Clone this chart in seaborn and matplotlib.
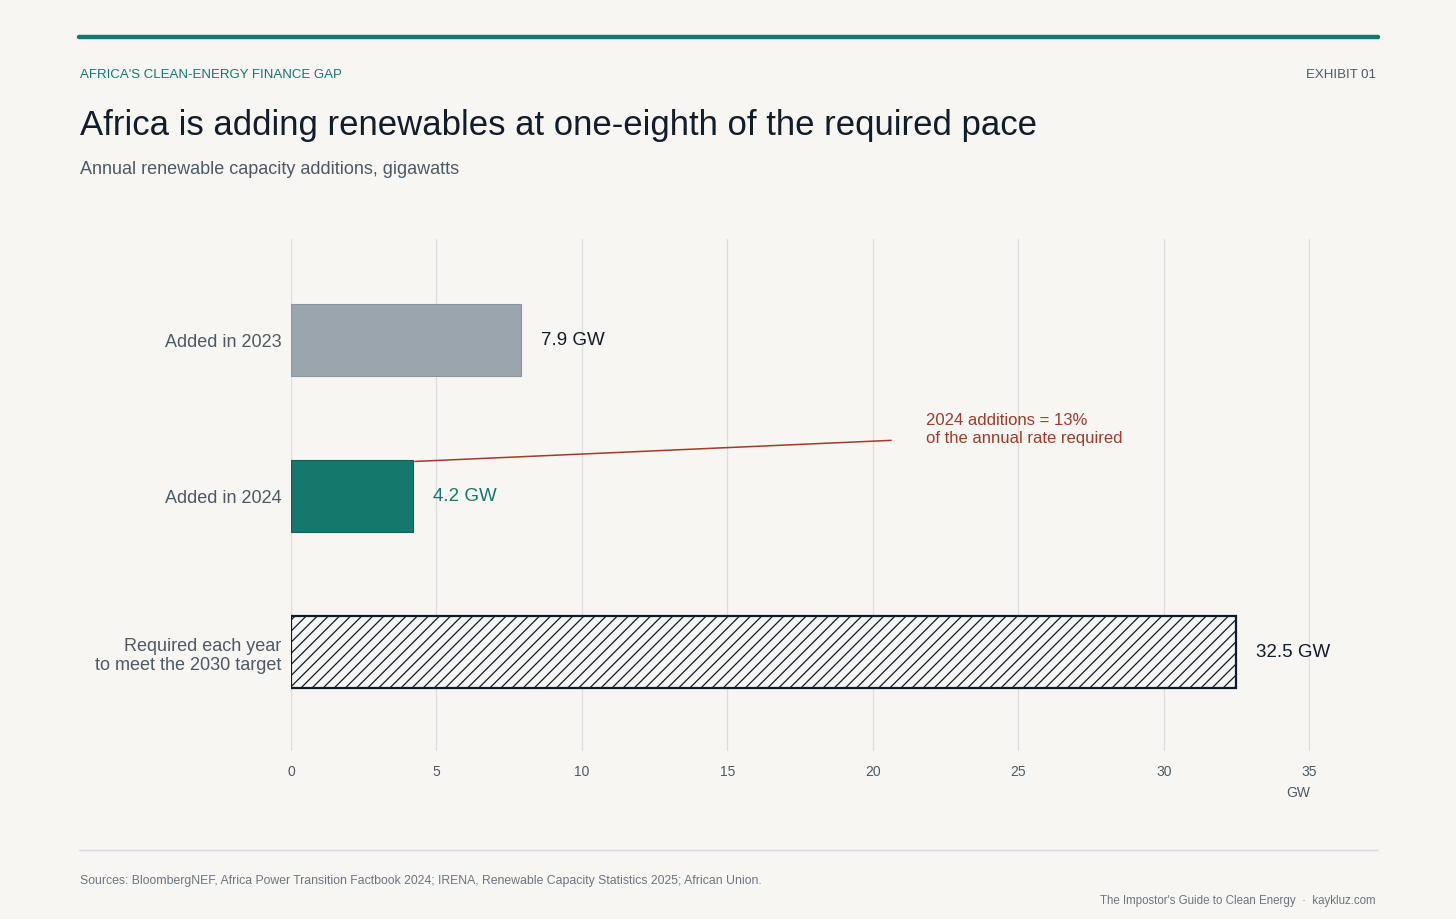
import matplotlib
matplotlib.use("Agg")
import matplotlib.pyplot as plt
import seaborn as sns

# Data
categories = ["Added in 2023", "Added in 2024", "Required each year\nto meet the 2030 target"]
gigawatts = [7.9, 4.2, 32.5]
value_labels = ["7.9 GW", "4.2 GW", "32.5 GW"]
x_ticks = [0, 5, 10, 15, 20, 25, 30, 35]

BG = "#f7f6f3"
TEAL = "#14786c"
GREY_BAR = "#9aa5ae"
NAVY = "#0f1c2a"
RED = "#a33a2b"
MUTED = "#4d5966"

sns.set_theme(style="white")
plt.rcParams["font.family"] = ["Liberation Sans", "DejaVu Sans"]
plt.rcParams["hatch.linewidth"] = 0.9

fig = plt.figure(figsize=(14.56, 9.2), dpi=100, facecolor=BG)
W, H = 1456, 920
ax = fig.add_axes([291 / W, 1 - 752 / H, (1310 - 291) / W, (752 - 240) / H])
ax.set_facecolor(BG)

sns.barplot(x=gigawatts, y=categories, hue=categories, orient="h",
            palette=[GREY_BAR, TEAL, "#f6f6f4"], saturation=1, legend=False,
            width=0.46, ax=ax, zorder=3)

edges = ["#8a959e", "#0f5f55", NAVY]
widths = [0.8, 0.8, 1.6]
for patch, ec, lw in zip(ax.patches, edges, widths):
    patch.set_edgecolor(ec)
    patch.set_linewidth(lw)
ax.patches[2].set_hatch("///")

ax.set_xlim(0, 35.03)
ax.set_ylim(2.635, -0.645)
ax.set_xticks(x_ticks)
ax.set_xticklabels([str(t) for t in x_ticks], fontsize=10, color=MUTED)
ax.tick_params(axis="x", length=0, pad=9)
ax.tick_params(axis="y", length=0, pad=7, labelsize=13, labelcolor=MUTED)
for lbl in ax.get_yticklabels():
    lbl.set_horizontalalignment("right")
    lbl.set_multialignment("right")
ax.grid(axis="x", color="#dcdddf", linewidth=0.9, zorder=0)
ax.grid(axis="y", visible=False)
for s in ax.spines.values():
    s.set_visible(False)
ax.set_xlabel("")
ax.set_ylabel("")

# value labels
label_colors = [NAVY, TEAL, NAVY]
for i, (v, txt, c) in enumerate(zip(gigawatts, value_labels, label_colors)):
    ax.text(v + 0.69, i, txt, va="center", ha="left", fontsize=13.5, color=c)

# annotation
ax.plot([4.26, 20.63], [1 - 0.22, 0.645], color=RED, linewidth=1.1, zorder=4)
ax.text(21.83, 0.57, "2024 additions = 13%\nof the annual rate required",
        color=RED, fontsize=12, va="center", ha="left", linespacing=1.2)

ax.text(1.0, -0.067, "GW", transform=ax.transAxes, ha="right", va="top",
        fontsize=10, color=MUTED)

# header and footer
fig.add_artist(plt.Line2D([79 / W, 1378 / W], [1 - 38 / H, 1 - 38 / H],
                          color=TEAL, linewidth=3.2))
fig.text(80 / W, 1 - 75 / H, "AFRICA'S CLEAN-ENERGY FINANCE GAP", color=TEAL,
         fontsize=9.5, va="center", ha="left")
fig.text(1376 / W, 1 - 75 / H, "EXHIBIT 01", color=MUTED,
         fontsize=9.5, va="center", ha="right")
fig.text(80 / W, 1 - 125 / H, "Africa is adding renewables at one-eighth of the required pace",
         color="#121d2b", fontsize=25, va="center", ha="left")
fig.text(80 / W, 1 - 170 / H, "Annual renewable capacity additions, gigawatts",
         color=MUTED, fontsize=13, va="center", ha="left")

fig.add_artist(plt.Line2D([79 / W, 1378 / W], [1 - 851 / H, 1 - 851 / H],
                          color="#dadcdf", linewidth=1.0))
fig.text(80 / W, 1 - 881 / H,
         "Sources: BloombergNEF, Africa Power Transition Factbook 2024; IRENA, Renewable Capacity Statistics 2025; African Union.",
         color="#6b7580", fontsize=8.8, va="center", ha="left")
fig.text(1376 / W, 1 - 901 / H, "The Impostor's Guide to Clean Energy  \u00b7  kaykluz.com",
         color="#6b7580", fontsize=8.3, va="center", ha="right")

fig.savefig("out.png", dpi=100, facecolor=BG)
